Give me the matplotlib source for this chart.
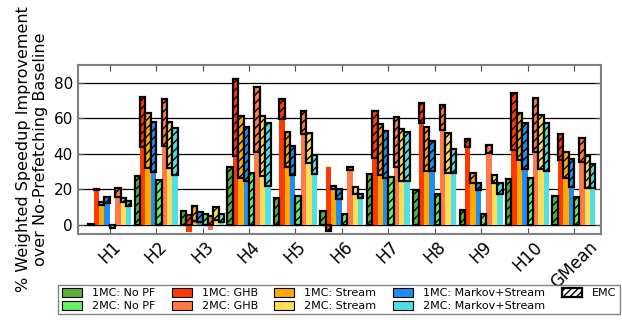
import matplotlib
matplotlib.use("Agg")
import matplotlib.pyplot as plt
from matplotlib.patches import Patch
import numpy as np

groups = ["H1", "H2", "H3", "H4", "H5", "H6", "H7", "H8", "H9", "H10", "GMean"]

series = ["1MC: No PF", "1MC: GHB", "1MC: Stream", "1MC: Markov+Stream",
          "2MC: No PF", "2MC: GHB", "2MC: Stream", "2MC: Markov+Stream"]
colors = ["#5bb03c", "#ff3a00", "#ffaa00", "#1e8ff0",
          "#66f066", "#ff7a45", "#ffdd55", "#4fe0e6"]

# improvement without EMC
base = [
    [0, 0, 0, 0, 0, 0, 0, 0, 0, 0, 0],
    [19.5, 43.7, -4.1, 38.9, 59.4, 32.5, 37.6, 57.6, 44.1, 42.2, 36.3],
    [11.5, 32.3, 2.0, 26.4, 32.9, 20.2, 28.2, 30.1, 23.6, 36.6, 26.4],
    [12.3, 29.9, 1.5, 24.5, 28.2, 14.6, 26.4, 30.1, 19.8, 31.4, 21.3],
    [0, 0, 0, 0, 0, 0, 0, 0, 0, 0, 0],
    [15.7, 44.5, -3.0, 41.3, 51.0, 31.0, 32.5, 53.5, 40.7, 41.3, 35.7],
    [12.7, 32.3, 2.6, 27.7, 35.1, 17.6, 25.0, 29.2, 23.6, 31.4, 20.7],
    [10.8, 28.0, 1.5, 22.1, 28.8, 15.1, 25.0, 29.2, 17.6, 30.1, 20.7],
]
# improvement with EMC
emc = [
    [0.8, 27.7, 7.9, 32.5, 15.1, 7.7, 28.6, 19.8, 8.6, 25.8, 16.4],
    [20.5, 71.8, 5.6, 82.2, 70.7, -3.4, 64.3, 68.8, 48.2, 74.4, 51.2],
    [12.7, 62.8, 10.5, 61.3, 52.5, 22.1, 56.6, 55.3, 29.5, 62.8, 41.3],
    [15.5, 58.1, 7.1, 55.3, 44.5, 20.2, 52.9, 47.5, 23.9, 57.2, 37.0],
    [-1.5, 25.4, 6.4, 29.5, 16.4, 6.4, 26.9, 17.6, 6.4, 26.4, 15.7],
    [20.7, 70.7, 5.2, 77.4, 64.1, 32.9, 60.9, 67.5, 45.0, 71.2, 49.2],
    [15.3, 58.1, 10.1, 61.3, 51.6, 21.3, 53.8, 52.0, 28.4, 61.9, 38.9],
    [13.4, 54.4, 6.4, 57.6, 39.4, 17.6, 52.1, 42.6, 23.9, 57.2, 34.4],
]

plt.rcParams["hatch.linewidth"] = 1.0

fig = plt.figure(figsize=(6.22, 3.2), dpi=100)
ax = fig.add_axes([0.125, 0.269, 0.841, 0.528])

x = np.arange(len(groups))
w = 0.116

for k in range(len(series)):
    xs = x + (k - 3.5) * w
    b = np.array(base[k])
    e = np.array(emc[k])
    ax.bar(xs, b, w, color=colors[k], edgecolor="none", zorder=3)
    bottom = np.where((b > 0) & (e > b), b, 0)
    ax.bar(xs, e - bottom, w, bottom=bottom, color=colors[k],
           edgecolor="black", linewidth=1.6, hatch="////", zorder=4)

ax.set_xlim(-0.69, 10.58)
ax.set_ylim(-5, 90)
ax.set_yticks([0, 20, 40, 60, 80])
ax.set_xticks(x)
ax.set_xticklabels(groups, rotation=45, ha="center")
ax.tick_params(axis="both", labelsize=11, direction="in", top=True, right=True,
               length=4, color="0.3")
ax.tick_params(axis="x", pad=3, labelsize=12)
ax.yaxis.grid(True, color="black", linewidth=0.9, zorder=0)
ax.set_axisbelow(True)
for s in ax.spines.values():
    s.set_color("0.5")
    s.set_linewidth(1.5)

ax.set_ylabel("% Weighted Speedup Improvement\nover No-Prefetching Baseline",
              fontsize=11.5, labelpad=4)

handles = [Patch(facecolor=c, edgecolor="black", linewidth=0.8, label=s)
           for s, c in zip(series, colors)]
order = [0, 4, 1, 5, 2, 6, 3, 7]
handles = [handles[i] for i in order]
handles.append(Patch(facecolor="white", edgecolor="black", linewidth=1.6,
                     hatch="/////", label="EMC"))
leg = fig.legend(handles=handles, ncol=5, loc="lower center",
                 bbox_to_anchor=(0.545, 0.0), fontsize=8, frameon=True,
                 fancybox=False, handlelength=1.8, handleheight=0.8,
                 columnspacing=1.5, handletextpad=0.9, borderpad=0.3,
                 labelspacing=0.25)
leg.get_frame().set_edgecolor("0.4")
leg.get_frame().set_linewidth(1.0)

fig.savefig("out.png", dpi=100)
